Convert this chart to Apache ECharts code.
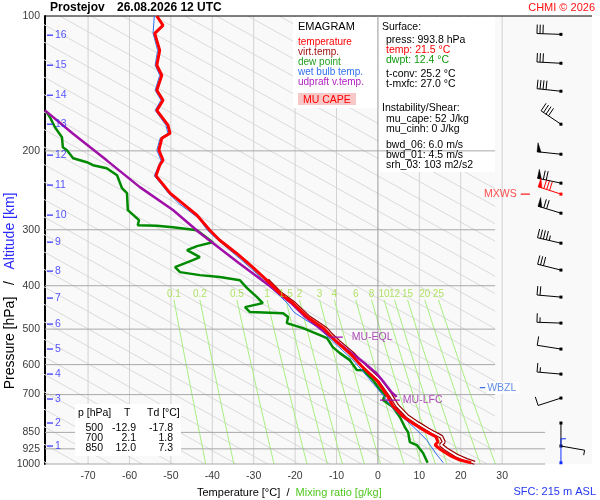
<!DOCTYPE html>
<html><head><meta charset="utf-8">
<script src="https://cdn.jsdelivr.net/npm/echarts@6/dist/echarts.min.js"></script>
<style>html,body{margin:0;padding:0;background:#fff}#c{width:600px;height:500px}</style>
</head><body><div id="c"></div>
<script>
// ---------- data ----------
const pressTicks = [100,200,300,400,500,600,700,850,925,1000];
const tempTicks = [-70,-60,-50,-40,-30,-20,-10,0,10,20,30];

const tempP = [100,104.9,109.3,119.3,128.8,135.6,146.5,154.2,162.4,175.3,182.7,187.5,199.3,209.9,215.4,227.4,235.8,248.5,262.4,278.5,300.7,316.6,338.9,363.9,389.0,415.6,437.6,469.6,494.5,500,515.4,534.4,566.0,608.9,651.6,700,742.2,782.3,811.7,837.8,850,869.2,892.6,907.0,926.8,957.8,979.7,993.8];
const tempT = [-53.4,-51.9,-53.9,-52.7,-53.4,-52.2,-53.4,-51.9,-53.4,-50.7,-50.2,-52.2,-52.9,-51.9,-52.7,-53.6,-52.2,-50.2,-47.1,-43.7,-40.6,-38.2,-34.1,-30.2,-26.8,-23.7,-20.5,-17.1,-13.6,-12.9,-11.6,-9.9,-6.8,-3.6,-0.2,2.1,3.6,6.0,8.5,10.8,12.0,14.0,14.5,13.8,15.0,17.4,19.8,22.5];

const virtP = [389.0,415.6,437.6,469.6,494.5,500,515.4,534.4,566.0,608.9,651.6,700,742.2,782.3,811.7,837.8,850,869.2,892.6,907.0,926.8,957.8,979.7,993.8];
const virtT = [-26.7,-23.6,-20.3,-16.8,-13.2,-12.5,-11.2,-9.4,-6.2,-2.9,0.6,3.0,4.7,7.1,9.7,12.1,13.3,15.3,15.9,15.2,16.5,19.0,21.4,23.4];

const dewP = [163.8,168.3,177.1,186.5,196.3,199.3,207.7,212.0,215.3,218.7,226.7,242.3,248.6,271.3,285.6,293.0,293.8,296.0,300.7,319.8,326.4,333.2,345.3,350.8,363.5,373.0,378.8,382.6,389.0,404.9,424.1,437.4,446.5,458.1,460.5,470.0,484.7,497.3,500,515.6,523.6,548.4,565.6,586.3,616.8,617.6,649.7,683.9,700,719.8,746.3,785.6,827.0,850,893.3,907.3,945.2,993.8];
const dewT = [-80.0,-79.2,-78.0,-76.3,-76.1,-75.1,-73.6,-70.3,-68.8,-65.5,-63.0,-61.8,-60.6,-60.4,-57.7,-58.0,-53.4,-49.5,-43.7,-39.9,-43.7,-46.1,-43.0,-44.7,-49.0,-47.8,-43.0,-38.2,-33.3,-31.6,-29.2,-27.8,-32.1,-30.9,-22.9,-21.7,-22.0,-18.1,-17.8,-14.0,-12.3,-10.9,-9.2,-6.8,-5.1,-3.6,-1.2,0.5,1.8,1.2,3.6,5.3,6.5,7.3,7.7,9.4,10.9,12.0];

const wetP = [100,109.3,119.3,128.8,135.6,146.5,154.2,162.4,175.3,182.7,187.5,199.3,209.9,227.4,235.8,248.6,262.4,271.3,283.2,300.7,313.0,329.9,350.8,374.8,402.9,437.4,458.1,477.3,494.5,515.6,558.4,586.3,617.2,673.6,701.7,741.9,770.8,801.7,840.0,884.5,907.3,955.4,993.8];
const wetT = [-54.0,-54.3,-53.2,-53.8,-52.7,-53.8,-52.4,-53.8,-51.2,-50.7,-52.6,-53.4,-52.4,-54.0,-52.6,-50.6,-48.0,-45.9,-43.2,-41.2,-39.2,-36.3,-32.9,-29.4,-25.9,-21.9,-20.3,-17.4,-14.6,-12.5,-8.5,-6.0,-3.9,-0.4,1.2,3.1,4.8,7.0,9.4,11.8,12.6,14.3,15.8];

const parcelP = [162.4,183,210,241,271,305,356,400,437,470,502.5,521,561.7,600,627.8,660,690,708];
const parcelT = [-80.4,-73.7,-65.5,-57.5,-49.5,-43.0,-33.6,-26.2,-21.0,-17.5,-13.5,-11.3,-6.8,-2.8,-0.3,1.6,3.2,4.5];

const altKm = [16,15,14,13,12,11,10,9,8,7,6,5,4,3,2,1];
const altP = [110.4,128.8,150.3,174.4,204.5,238.5,278.3,319.8,371.1,426.3,487.2,553.9,630.0,716.1,810.0,911.8];

const windP = [109.9,127.5,147.2,174.4,203.5,236.1,249.8,275.5,321.4,369.1,424.1,484.7,553.9,630.0,712.5,810.1,911.8,993.8];
const windDir = [272,273,276,304,276,282,288,287,283,284,275,272,279,275,252,180,100,360];
const windSpd = [30,30,40,40,50,70,80,70,45,30,20,15,10,15,10,0,5,5];
const windKind = [0,0,0,0,0,0,1,0,0,0,0,0,0,0,0,0,0,2];

const mixRatios = [0.1,0.2,0.5,1,1.5,2,3,4,6,8,10,12,15,20,25];

const eqlP = 521, lfcP = 720, wbzlP = 675.6, mxwsP = 249.8;

const tableP = ['500','700','850'];
const tableT = ['-12.9','2.1','12.0'];
const tableTd = ['-17.8','1.8','7.3'];

const surfaceLines = ['press: 993.8 hPa','temp: 21.5 °C','dwpt: 12.4 °C'];
const convLines = ['t-conv: 25.2 °C','t-mxfc: 27.0 °C'];
const instLines = ['mu_cape: 52 J/kg','mu_cinh: 0 J/kg'];
const shearLines = ['bwd_06: 6.0 m/s','bwd_01: 4.5 m/s','srh_03: 103 m2/s2'];

// ---------- layout / style constants ----------
const FONT = "'Liberation Sans', Arial, Helvetica, sans-serif";
const X_MIN = -80.4, X_MAX = 51.7;
const UPPER_RIGHT_T = 28.3, LOWER_RIGHT_T = 40.4, BARB_T = 44.2;
const ADIA_SLOPE = 194, ADIA_REF = 139.9, ADIA_STEP = 7.57;
const BARB_COLORS = ['#000000', '#ff0000', '#1030ff'];

function dewFromMix(w, p) {
  const e = w * p / (622 + w);
  const l = Math.log(e / 6.112);
  return 243.5 * l / (17.67 - l);
}
const zip = (P, T) => P.map((p, i) => [T[i], p]);

const series = [];
function seg(pts, color, width, z, clip) {
  series.push({type:'line', data: pts, symbol:'none', showSymbol:false, lineStyle:{color, width},
    z, silent:true, animation:false, clip: clip !== false, emphasis:{disabled:true}});
}

// background reference lines
for (let k = -32; k <= 14; k++) {
  const T0 = ADIA_REF + ADIA_STEP * k;
  if (T0 <= X_MIN) continue;
  let lower;
  if (T0 <= UPPER_RIGHT_T) lower = [T0, 1000];
  else {
    const p = 1000 * Math.pow(10, (UPPER_RIGHT_T - T0) / ADIA_SLOPE);
    if (p <= 100) continue;
    lower = [UPPER_RIGHT_T, p];
  }
  seg([lower, [T0 - ADIA_SLOPE, 100]], '#dadada', 1, 1);
}
tempTicks.filter(t => t !== 0).forEach(t => seg([[t, 100], [t, 1000]], '#d2d2d2', 1, 1, false));
const mixLevels = [430,470,520,580,650,730,820,910,1000];
mixRatios.forEach(w => seg(mixLevels.map(p => [dewFromMix(w, p), p]), '#a8ee80', 1, 1));

// pressure lines
pressTicks.filter(p => p > 100).forEach(p => seg([[X_MIN, p], [p >= 850 ? LOWER_RIGHT_T : UPPER_RIGHT_T, p]], '#a8a8a8', 1, 4, false));
seg([[X_MIN, 100], [X_MAX, 100]], '#000000', 1, 4, false);
seg([[0, 100], [0, 1000]], '#9c9c9c', 1, 4, false);

// profiles
seg(zip(virtP, virtT), '#990000', 4.2, 6);
seg(zip(virtP, virtT), '#ffffff', 1.8, 6.5);
seg(zip(dewP, dewT), '#008a00', 2.5, 7);
seg(zip(wetP, wetT), '#2f6ff0', 1, 8);
seg(zip(parcelP, parcelT), '#a010a8', 2.5, 9);
seg(zip(tempP, tempT), '#ff0000', 3, 10);

// annotations
seg([[-11.6, eqlP], [-8.5, eqlP]], '#a010a8', 1.2, 12);
seg([[0.5, lfcP], [5.3, lfcP]], '#a010a8', 1.2, 12);
seg([[24.6, wbzlP], [25.9, wbzlP]], '#3a70e0', 1.2, 12);
seg([[34.5, mxwsP], [36.7, mxwsP]], '#ff2020', 1.2, 12);

function labelSeries(data, label, extra) {
  series.push(Object.assign({type:'scatter', data, symbolSize:0, silent:true, animation:false, clip:false, z:20,
    label: Object.assign({show:true, fontFamily:FONT}, label)}, extra || {}));
}
labelSeries([[-8.5, eqlP]], {position:'right', distance:9, formatter:'MU-EQL', color:'#9922a8', fontSize:10.5});
labelSeries([[5.3, lfcP]], {position:'right', distance:3, formatter:'MU-LFC', color:'#9922a8', fontSize:10.5});
labelSeries([[25.9, wbzlP]], {position:'right', distance:1, formatter:'WBZL', color:'#3a70e0', fontSize:10.5, backgroundColor:'#ffffff', padding:[1,3,0,1]});
labelSeries([[34.5, mxwsP]], {position:'left', distance:4, formatter:'MXWS', color:'#ff2020', fontSize:10.5});

// axis tick labels
labelSeries(pressTicks.map(p => [X_MIN, p]), {position:'left', distance:5, formatter: d => String(d.value[1]), color:'#000', fontSize:10.5});
labelSeries(tempTicks.map(t => [t, 1000]), {position:'bottom', distance:7, formatter: d => String(d.value[0]), color:'#000', fontSize:10.5});
labelSeries(mixRatios.map(w => [dewFromMix(w, 430), 430, w]), {position:'top', distance:1, formatter: d => String(d.value[2]), color:'#9cdc40', fontSize:10});
series.push({type:'scatter', data: altP.map((p, i) => [X_MIN, p, altKm[i]]), symbol:'rect', symbolSize:[6,1.5], symbolOffset:[5,0],
  itemStyle:{color:'#2a2aff'}, silent:true, animation:false, clip:false, z:20,
  label:{show:true, position:'right', distance:2, formatter: d => String(d.value[2]), color:'#2a2aff', fontSize:10.5, fontFamily:FONT}});

// wind barbs
function renderBarb(params, api) {
  const st = api.coord([api.value(0), api.value(1)]);
  const dir = api.value(2) * Math.PI / 180;
  const spd = api.value(3);
  const color = BARB_COLORS[api.value(4)];
  const ux = Math.sin(dir), uy = -Math.cos(dir);
  const px = -uy, py = ux;
  const L = 24, BL = 9, HL = 5, SP = 3;
  const tx = st[0] + ux * L, ty = st[1] + uy * L;
  const at = k => [tx - ux * k, ty - uy * k];
  const ch = [
    {type:'line', shape:{x1:st[0], y1:st[1], x2:tx, y2:ty}, style:{stroke:color, lineWidth:1}},
    {type:'rect', shape:{x:st[0]-1.5, y:st[1]-1.5, width:3, height:3}, style:{fill:color}}
  ];
  let s = spd, d = 0;
  while (s >= 50) {
    const a = at(d), c = at(d + 4);
    ch.push({type:'polygon', shape:{points:[a, [a[0] + px * BL, a[1] + py * BL], c]}, style:{fill:color, stroke:color, lineWidth:0.5}});
    d += 6; s -= 50;
  }
  while (s >= 10) {
    const a = at(d);
    ch.push({type:'line', shape:{x1:a[0], y1:a[1], x2:a[0] + px * BL, y2:a[1] + py * BL}, style:{stroke:color, lineWidth:1}});
    d += SP; s -= 10;
  }
  if (s >= 5) {
    const a = at(d);
    ch.push({type:'line', shape:{x1:a[0], y1:a[1], x2:a[0] + px * HL, y2:a[1] + py * HL}, style:{stroke:color, lineWidth:1}});
  }
  return {type:'group', children: ch};
}
series.push({type:'custom', renderItem: renderBarb, data: windP.map((p, i) => [BARB_T, p, windDir[i], windSpd[i], windKind[i]]),
  encode:{x:0, y:1}, clip:false, silent:true, animation:false, z:15});

// ---------- graphic texts ----------
function txt(x, y, text, color, size, extra) {
  return Object.assign({type:'text', x, y, z:50, silent:true,
    style:Object.assign({text, fill:color, fontSize:size, fontFamily:FONT, align:'left', verticalAlign:'middle'}, (extra && extra.style) || {})},
    extra && extra.el ? extra.el : {});
}
const graphic = [
  {type:'rect', shape:{x:293, y:17, width:85, height:91}, style:{fill:'#ffffff'}, z:2, silent:true},
  {type:'rect', shape:{x:378.5, y:17, width:116.5, height:155}, style:{fill:'#ffffff'}, z:2, silent:true},
  {type:'rect', shape:{x:75, y:404, width:106, height:52}, style:{fill:'#ffffff'}, z:5, silent:true},
  {type:'rect', shape:{x:298, y:93, width:58, height:12}, style:{fill:'#f8c8c8'}, z:3, silent:true},
  txt(50, 8, 'Prostejov', '#000', 12, {style:{fontWeight:'bold'}}),
  txt(117, 8, '26.08.2026 12 UTC', '#000', 12, {style:{fontWeight:'bold'}}),
  txt(595, 8, 'CHMI © 2026', '#ff1010', 11, {style:{align:'right'}}),
  txt(298, 26.5, 'EMAGRAM', '#000', 11),
  txt(298, 42, 'temperature', '#ff0000', 10),
  txt(298, 52, 'virt.temp.', '#a01010', 10),
  txt(298, 62, 'dew point', '#20a020', 10),
  txt(298, 72, 'wet bulb temp.', '#3070f0', 10),
  txt(298, 82, 'udpraft v.temp.', '#b020c0', 10),
  txt(303, 100, 'MU CAPE', '#ff0000', 10.5),
  txt(382, 27.5, 'Surface:', '#000', 10.5),
  txt(386, 40, surfaceLines[0], '#000', 10.5),
  txt(386, 50, surfaceLines[1], '#ff0000', 10.5),
  txt(386, 60, surfaceLines[2], '#109a10', 10.5),
  txt(386, 74, convLines[0], '#000', 10.5),
  txt(386, 84, convLines[1], '#000', 10.5),
  txt(382, 108.5, 'Instability/Shear:', '#000', 10.5),
  txt(386, 119.5, instLines[0], '#000', 10.5),
  txt(386, 129.5, instLines[1], '#000', 10.5),
  txt(386, 145, shearLines[0], '#000', 10.5),
  txt(386, 155, shearLines[1], '#000', 10.5),
  txt(386, 165.5, shearLines[2], '#000', 10.5),
  txt(78, 413, 'p [hPa]', '#000', 10.5),
  txt(124, 413, 'T', '#000', 10.5),
  txt(147, 413, 'Td [°C]', '#000', 10.5),
  txt(596, 492, 'SFC: 215 m ASL', '#2438f0', 11, {style:{align:'right'}}),
  {type:'text', x:197, y:493, z:50, silent:true, style:{text:'{t|Temperature [°C]}{s|  /  }{m|Mixing ratio [g/kg]}', fontSize:11, fontFamily:FONT, align:'left', verticalAlign:'middle',
    rich:{t:{fill:'#000', fontSize:11, fontFamily:FONT}, s:{fill:'#000', fontSize:11, fontFamily:FONT}, m:{fill:'#50c820', fontSize:11, fontFamily:FONT}}}},
  {type:'text', x:10, y:343, rotation:Math.PI/2, z:50, silent:true, style:{text:'Pressure [hPa]', fill:'#000', fontSize:14, fontFamily:FONT, align:'center', verticalAlign:'middle'}},
  {type:'text', x:10, y:283, rotation:Math.PI/2, z:50, silent:true, style:{text:'/', fill:'#000', fontSize:14, fontFamily:FONT, align:'center', verticalAlign:'middle'}},
  {type:'text', x:10, y:231, rotation:Math.PI/2, z:50, silent:true, style:{text:'Altitude [km]', fill:'#2a2aff', fontSize:14, fontFamily:FONT, align:'center', verticalAlign:'middle'}}
];
tableP.forEach((v, i) => {
  const y = 428 + i * 10.3;
  graphic.push(txt(103, y, v, '#000', 10.5, {style:{align:'right'}}));
  graphic.push(txt(136, y, tableT[i], '#000', 10.5, {style:{align:'right'}}));
  graphic.push(txt(173, y, tableTd[i], '#000', 10.5, {style:{align:'right'}}));
});

const chart = echarts.init(document.getElementById('c'));
chart.setOption({
  animation:false,
  backgroundColor:'#ffffff',
  textStyle:{fontFamily:FONT},
  grid:{left:45, right:8, top:16, bottom:36, show:true, backgroundColor:'#f9f9f9', borderWidth:0},
  xAxis:{type:'value', min:X_MIN, max:X_MAX, show:false},
  yAxis:{type:'log', logBase:10, min:100, max:1000, inverse:true,
    axisLine:{show:true, onZero:false, lineStyle:{color:'#000', width:2}}, axisTick:{show:false}, axisLabel:{show:false}, splitLine:{show:false}},
  graphic:graphic,
  series:series
});
</script>
</body></html>
